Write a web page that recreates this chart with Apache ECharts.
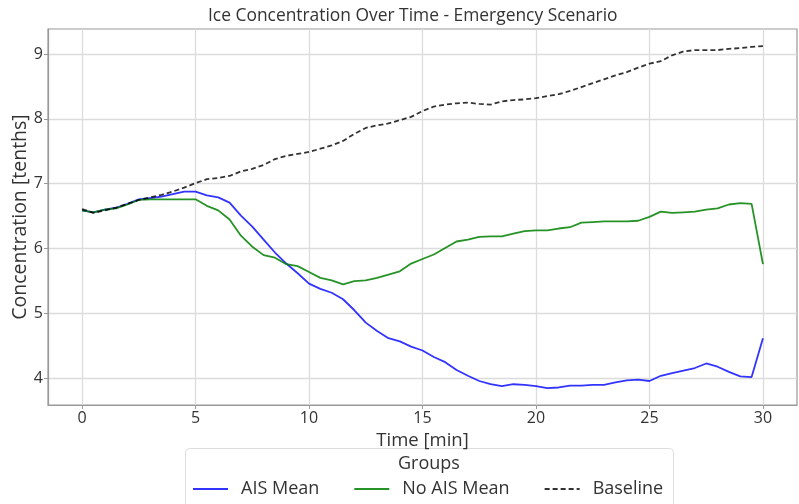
<!DOCTYPE html>
<html>
<head>
<meta charset="utf-8">
<script src="https://cdn.jsdelivr.net/npm/echarts@6/dist/echarts.min.js"></script>
<style>
  html, body { margin: 0; padding: 0; background: #fff; }
  #main { width: 799px; height: 504px; }
</style>
</head>
<body>
<div id="main"></div>
<script>
// time axis (min)
const timeMin = [0, 0.5, 1, 1.5, 2, 2.5, 3, 3.5, 4, 4.5, 5, 5.5, 6, 6.5, 7, 7.5, 8, 8.5, 9, 9.5,
  10, 10.5, 11, 11.5, 12, 12.5, 13, 13.5, 14, 14.5, 15, 15.5, 16, 16.5, 17, 17.5, 18, 18.5, 19, 19.5,
  20, 20.5, 21, 21.5, 22, 22.5, 23, 23.5, 24, 24.5, 25, 25.5, 26, 26.5, 27, 27.5, 28, 28.5, 29, 29.5, 30];

// AIS Mean
const aisMean = [6.59, 6.56, 6.60, 6.63, 6.69, 6.76, 6.78, 6.80, 6.84, 6.88, 6.88, 6.82, 6.79, 6.71, 6.51, 6.34, 6.14, 5.94, 5.77, 5.62,
  5.46, 5.38, 5.32, 5.22, 5.05, 4.86, 4.73, 4.62, 4.57, 4.49, 4.43, 4.33, 4.25, 4.13, 4.04, 3.96, 3.91, 3.88, 3.91, 3.90,
  3.88, 3.85, 3.86, 3.89, 3.89, 3.90, 3.90, 3.94, 3.97, 3.98, 3.96, 4.04, 4.08, 4.12, 4.16, 4.23, 4.18, 4.10, 4.03, 4.02, 4.62];

// No AIS Mean
const noAisMean = [6.59, 6.56, 6.60, 6.62, 6.68, 6.75, 6.76, 6.76, 6.76, 6.76, 6.76, 6.66, 6.59, 6.45, 6.20, 6.03, 5.90, 5.86, 5.76, 5.73,
  5.64, 5.55, 5.51, 5.45, 5.50, 5.51, 5.55, 5.60, 5.65, 5.77, 5.84, 5.91, 6.01, 6.11, 6.14, 6.18, 6.19, 6.19, 6.23, 6.27,
  6.28, 6.28, 6.31, 6.33, 6.40, 6.41, 6.42, 6.42, 6.42, 6.43, 6.49, 6.57, 6.55, 6.56, 6.57, 6.60, 6.62, 6.68, 6.70, 6.69, 5.76];

// Baseline
const baseline = [6.61, 6.55, 6.59, 6.63, 6.69, 6.75, 6.79, 6.83, 6.88, 6.94, 7.01, 7.07, 7.09, 7.12, 7.19, 7.23, 7.29, 7.38, 7.43, 7.46,
  7.49, 7.54, 7.59, 7.66, 7.77, 7.86, 7.90, 7.93, 7.98, 8.03, 8.12, 8.19, 8.22, 8.24, 8.25, 8.23, 8.22, 8.27, 8.29, 8.30,
  8.32, 8.35, 8.38, 8.43, 8.49, 8.55, 8.61, 8.67, 8.72, 8.79, 8.85, 8.89, 8.98, 9.04, 9.06, 9.06, 9.06, 9.08, 9.09, 9.11, 9.12];

// tick labels
const xTicks = [0, 5, 10, 15, 20, 25, 30];
const yTicks = [4, 5, 6, 7, 8, 9];

const font = 'Open Sans';
const pairs = (ys) => timeMin.map((t, i) => [t, ys[i]]);

const chart = echarts.init(document.getElementById('main'));

const option = {
  backgroundColor: '#fff',
  animation: false,
  textStyle: { fontFamily: font },
  title: {
    text: 'Ice Concentration Over Time - Emergency Scenario',
    left: 203, top: 3,
    textStyle: { fontFamily: font, fontSize: 17.4, fontWeight: 'normal', color: '#333' }
  },
  grid: {
    left: 48, right: 2, top: 29, bottom: 99,
    outerBoundsMode: 'none',
    show: true, borderColor: '#999', borderWidth: 1.2
  },
  xAxis: {
    type: 'value', min: -1.5, max: 31.5,
    name: 'Time [min]', nameLocation: 'middle', nameGap: 24,
    nameTextStyle: { fontFamily: font, fontSize: 18.5, color: '#333' },
    axisLine: { show: true, onZero: false, lineStyle: { color: '#999', width: 1.2 } },
    axisTick: { show: true, length: 4, customValues: xTicks, lineStyle: { color: '#999' } },
    axisLabel: { customValues: xTicks, margin: 5, fontFamily: font, fontSize: 16, color: '#333' },
    splitLine: { show: true, lineStyle: { color: '#dcdcdc', width: 1.3 } }
  },
  yAxis: {
    type: 'value', min: 3.59, max: 9.385,
    name: 'Concentration [tenths]', nameLocation: 'middle', nameGap: 18,
    nameMoveOverlap: false,
    nameTextStyle: { fontFamily: font, fontSize: 19.5, color: '#333' },
    axisLine: { show: true, onZero: false, lineStyle: { color: '#999', width: 1.2 } },
    axisTick: { show: true, length: 4, customValues: yTicks, lineStyle: { color: '#999' } },
    axisLabel: { customValues: yTicks, margin: 5, fontFamily: font, fontSize: 16, color: '#333' },
    splitLine: { show: true, lineStyle: { color: '#dcdcdc', width: 1.3 } }
  },
  legend: {
    left: 192, top: 480, padding: 0,
    itemWidth: 35, itemHeight: 14, itemGap: 34,
    itemStyle: { opacity: 0 },
    textStyle: { fontFamily: font, fontSize: 18, color: '#333', padding: [0, 0, 0, 8] },
    data: ['AIS Mean', 'No AIS Mean', 'Baseline']
  },
  graphic: [
    {
      type: 'rect', left: 185, top: 448,
      shape: { width: 488, height: 70, r: 4 },
      style: { fill: '#fff', stroke: '#dddddd', lineWidth: 1 },
      z: -1
    },
    {
      type: 'text', left: 398, top: 455,
      style: { text: 'Groups', fontFamily: font, fontSize: 18, fill: '#333' }
    }
  ],
  series: [
    {
      name: 'AIS Mean', type: 'line', data: pairs(aisMean),
      symbol: 'none', color: 'rgba(0,0,255,0.8)',
      lineStyle: { width: 1.8, color: 'rgba(0,0,255,0.8)' }
    },
    {
      name: 'No AIS Mean', type: 'line', data: pairs(noAisMean),
      symbol: 'none', color: 'rgba(0,128,0,0.85)',
      lineStyle: { width: 1.8, color: 'rgba(0,128,0,0.85)' }
    },
    {
      name: 'Baseline', type: 'line', data: pairs(baseline),
      symbol: 'none', color: 'rgba(0,0,0,0.8)',
      lineStyle: { width: 1.8, type: [5, 3], color: 'rgba(0,0,0,0.8)' }
    }
  ]
};

chart.setOption(option);
</script>
</body>
</html>
